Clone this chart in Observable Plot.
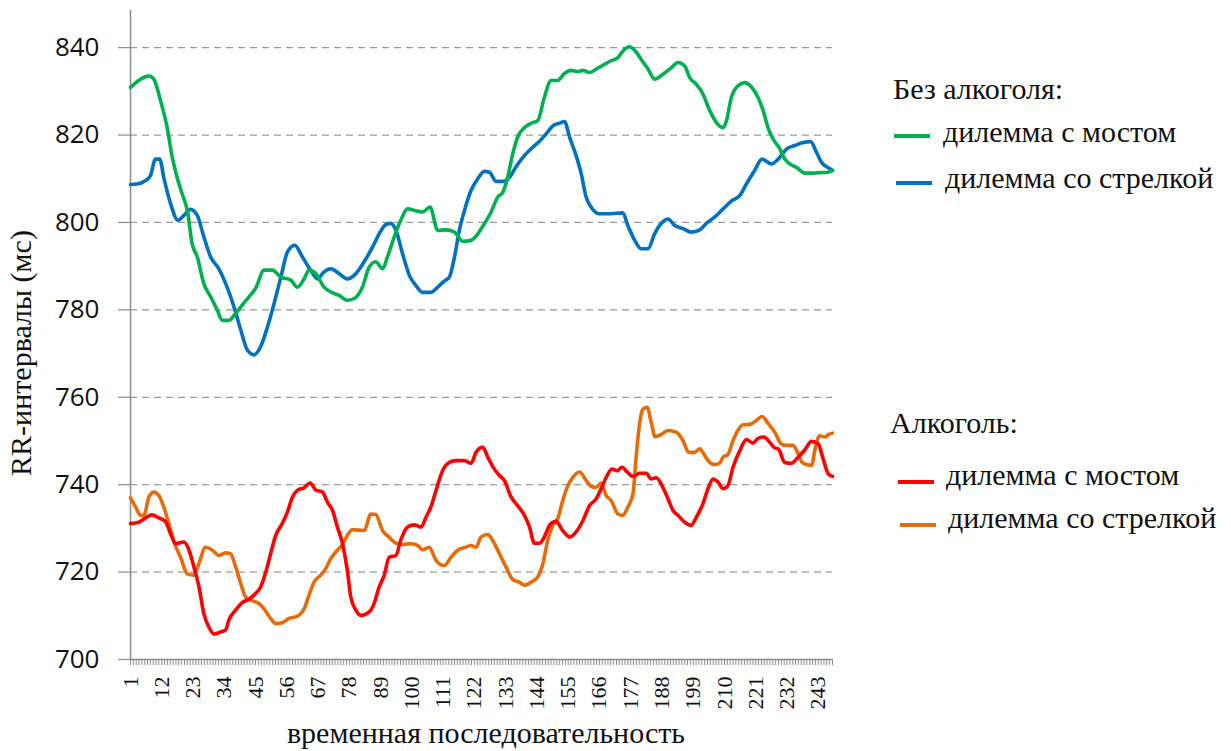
<!DOCTYPE html>
<html>
<head>
<meta charset="utf-8">
<script src="https://cdn.jsdelivr.net/npm/d3@7"></script>
<script src="https://cdn.jsdelivr.net/npm/@observablehq/plot@0.6"></script>
<style>
  html, body { margin: 0; padding: 0; background: #fff; }
  #chart { position: relative; width: 1231px; height: 751px; }
</style>
</head>
<body>
<div id="chart"></div>
<script>
// Без алкоголя: дилемма с мостом  [index, ms]
const noAlcBridge = [[1,830.9],[7.5,833.5],[9.2,832.8],[11.6,827.8],[13.9,821.7],[15.7,814.9],[17.4,810.3],[19.2,806.5],[21,802.7],[22.7,795.1],[24.5,792.1],[26.8,786],[29.2,783],[31.5,780],[33.3,777.6],[35.6,777.6],[38,779.2],[40.3,781.1],[42.7,783],[45,784.9],[48,789.1],[50.9,789.1],[53.9,787.5],[57.4,786.8],[59.7,785.2],[62.1,787.1],[63.8,789.1],[66.2,788.3],[69.1,785.2],[71.5,784.1],[74.4,783.3],[77.3,782.2],[79.7,782.6],
[82.6,785.2],[85,789.8],[87.3,791],[89.7,789.4],[91.4,792.1],[93.8,796.7],[96.1,800.5],[98.5,803.1],[101.4,802.7],[103.8,802.4],[106.4,803.5],[109.1,798.2],[112,798.3],[115,797.8],[117.9,795.7],[120.8,795.9],[123.2,797.4],[125.5,799.7],[127.9,802.4],[130.2,805.8],[132,806.9],[133.7,810.3],[135.5,815.7],[137.2,819.5],[139.6,821.7],[142,822.7],[144.3,823.3],[146.6,828.6],[149,832.5],[151.3,832.5],[153.7,834.1],[156,834.8],[158.4,834.5],[160.2,834.8],[162.5,834.3],
[165.4,835.3],[167.8,836.2],[170.1,837],[172.5,837.7],[174.2,839.2],[176.6,840.2],[178.4,839.4],[180.7,837.3],[183.1,835.1],[185.4,832.8],[188.3,833.9],[191.3,835.4],[193.6,836.6],[196,835.8],[197.7,833.2],[200.1,831.6],[202.4,829.4],[204.8,825.6],[207.1,822.9],[209.5,821.7],[210.7,823.3],[212.4,828.6],[214.8,831.3],[217.1,832],[219.5,831],[221.8,828.6],[223.6,825.6],[225.3,821.7],[227.1,819.1],[229.5,816.8],[231.2,814.5],[233,813.4],[235.3,812.6],[238.3,811.3],[241.2,811.3],[244.1,811.4],[246.5,811.5],[248,811.9]];

// Без алкоголя: дилемма со стрелкой
const noAlcArrow = [[1,808.7],[3.3,808.8],[6.3,809.6],[8,810.7],[9.8,814.5],[11.3,814.5],[12.7,810.3],[15.1,804.3],[17.7,800.5],[19.8,801.6],[22.1,803],[24.5,801.6],[26.8,796.7],[29.2,792.1],[32.1,789.4],[34.5,786],[37.4,780.7],[39.8,775.4],[42.1,770.8],[44.5,769.7],[46.8,771.6],[49.2,776.1],[51.5,781.4],[53.9,787.5],[56.2,793.2],[58.8,794.8],[61.5,792.1],[64.4,789.1],[66.8,787.1],[69.1,788.7],[71.5,789.4],[74.4,788.3],[77.3,787.1],[79.7,787.9],
[83.2,791],[86.2,794.4],[88.5,797.4],[90.8,799.5],[92.6,799.8],[94.4,798.2],[96.7,792.9],[99.1,787.9],[101.4,785.6],[103.8,784],[106.7,784],[109.1,785.2],[111.4,786.6],[113.2,787.5],[115,792.1],[116.7,798.2],[118.5,802.7],[120.8,807.3],[123.2,810],[125.5,811.7],[127.3,811.5],[129.6,809.4],[132,809.4],[134.3,810.3],[136.7,812.8],[139.6,815.3],[142.5,817.2],[144.9,818.6],[147.2,820.2],[149.6,822.1],[151.9,822.7],[153.7,823.1],[155.5,819.5],[157.8,815.3],[159.6,811.1],[161.3,805.8],[163.1,803.5],
[166,802],[170.1,802],[174.2,802.2],[176,799.3],[178.4,795.9],[180.7,794],[183.1,794],[185.4,797.4],[187.8,799.8],[190.1,800.8],[192.5,799.3],[195.4,798.6],[198.3,797.8],[201.3,798.3],[203.6,799.8],[206.5,801.2],[209.5,803.1],[212.4,804.9],[215.4,806.2],[217.7,808.8],[220.6,811.9],[223.2,814.5],[226.5,813.4],[228.9,814.5],[231.8,816.8],[234.7,817.6],[237.7,818.3],[240.3,818.5],[242.4,816],[244.1,813.8],[246.5,812.5],[248,811.9]];

// Алкоголь: дилемма с мостом
const alcBridge = [[1,731.1],[3.9,731.4],[6.3,732.4],[8.6,733.1],[11,732.4],[13.3,731.6],[15.1,728.8],[16.9,726.5],[19.8,726.9],[21.6,725],[23.3,721.2],[25.1,716.6],[26.8,710.5],[28.6,707.4],[30.4,705.8],[32.7,706.3],[34.5,706.8],[35.6,709],[38,711.3],[40.3,713],[42.7,713.8],[45,715.1],[46.8,716.6],[48.6,720],[50.3,724.2],[52.1,728.4],[54.4,731.1],[56.2,733.7],[58,737.2],[59.7,738.7],[62.1,739.3],[64.2,740.4],[66.2,738.8],[68.5,738.3],[70.3,736],[72.1,734.1],[73.8,730.3],[75.6,726.5],[77.3,720.4],[78.5,714.3],[80.3,711.3],[82,710.1],
[85,710.9],[86.7,712.8],[88.5,716.6],[90.3,719.3],[92,723.4],[94.4,723.8],[96.1,727.3],[98.5,730.3],[100.8,730.8],[103.2,730.3],[105,732.6],[106.7,734.9],[108.5,738.7],[110.8,743.2],[113.2,745.1],[115.5,745.5],[118.5,745.5],[120.8,744.9],[122.6,747.4],[124.9,748.6],[126.7,746.3],[128.4,744.2],[130.8,742.1],[132.5,741],[134.9,737.2],[137.2,735.2],[139.6,733],[141.4,730.3],[143.1,726.6],[144.9,726.6],[146.6,728],[148.4,730.7],[150.7,731.6],[153.1,729.5],[155.5,728],[157.8,729.2],[160.2,731.8],[162.5,735.2],
[164.9,736.8],[166.6,739.1],[168.4,741.7],[170.4,743.6],[172.3,743.2],[173.9,744],[175.8,742.9],[177.8,741.9],[180.1,742.6],[182.5,742.6],[184.2,741.3],[186,741.6],[188.3,739.4],[190.1,736.8],[191.9,734.1],[193.6,733],[196,731.4],[198.3,730.7],[200.1,732.6],[202.4,735.6],[204.2,739.1],[206,741.3],[207.7,740.6],[209.5,739.1],[211.2,739.8],[213,744],[215.4,747.8],[217.7,750.3],[220,749.5],[221.8,750.6],[223.9,750.9],[225.9,749.7],[227.7,748.4],[228.9,748.2],[231.2,745.1],[233.6,744.9],[235.9,746.3],[238.3,748],[240.6,749.9],[243,749.3],[244.7,745.9],[246.5,742.5],[248,741.9]];

// Алкоголь: дилемма со стрелкой
const alcArrow = [[1,737],[2.8,734.9],[4.5,733],[5.7,733],[7.5,737.2],[9.2,738.3],[11,737.5],[12.7,734.9],[14.5,731.1],[16.3,726.9],[18.6,723.4],[21,719.6],[23.3,719.3],[25.1,722],[27.4,725.7],[29.8,725],[32.1,723.8],[34.5,724.4],[36.2,724.2],[38,721.2],[39.8,717.4],[41.5,714.3],[43.9,713.4],[46.2,712.8],[48,711.6],[50.3,709.4],[52.1,708.2],[54.4,708.4],[56.8,709.4],[59.7,709.9],[62.1,711.6],[63.8,714.7],[65.6,717.7],[67.9,719.3],[69.7,720.8],[71.5,723.1],[73.8,725],[75.6,726.3],[77.3,728.4],[79.1,729.7],
[83.2,729.5],[85.6,733.3],[87.3,733.2],[89.7,729.5],[92,728],[94.4,726.6],[96.7,726.3],[99.7,726.5],[102,726.1],[103.8,725.1],[106.1,725.7],[108.5,722.7],[111.4,721.5],[113.8,723.4],[116.1,725],[118.5,725.6],[120.8,726.1],[122.6,725.7],[124.3,728],[126.7,728.6],[128.4,727.3],[130.8,724.2],[133.1,721.2],[135.5,718.3],[137.8,717.7],[139.6,717],[142,717.7],[144.3,718.9],[146.1,721.9],[147.8,727.3],[149.6,730.7],[151.3,732.2],[153.1,736.4],[154.9,739.8],[156.6,741.6],[159,742.9],[161.3,741],[163.1,739.6],
[164.9,739.4],[166.6,740.4],[168.4,737.5],[170.1,736.4],[172.5,733.3],[174.2,733],[176,734.9],[177.8,737.9],[178.9,746.3],[180.1,753.9],[181.3,757.3],[182.8,757.7],[184.2,754.3],[185.6,751],[187.8,751.5],[190.1,752.4],[193,752],[195.4,750.1],[197.4,747.4],[199.5,747.4],[201.3,748.2],[203,746.7],[204.8,745.1],[206.5,744.6],[208.3,744.9],[209.5,746.3],[211.2,746.9],[213,750.1],[214.8,752.5],[216.5,753.7],[218.9,753.8],[221.2,754.7],[223.2,755.6],[225.3,754.1],[227.7,752],[230,749.3],[231.8,749],[234.1,749],[235.9,747.1],[237.3,745.1],[238.9,744.6],[240.6,744.4],[242,748.6],[243.5,751.2],[245.3,750.9],[246.7,751.5],[248,751.8]];

const yTicks = [700, 720, 740, 760, 780, 800, 820, 840];
const gridTicks = [720, 740, 760, 780, 800, 820, 840];
const xTickLabels = [1, 12, 23, 34, 45, 56, 67, 78, 89, 100, 111, 122, 133, 144, 155, 166, 177, 188, 199, 210, 221, 232, 243];
const xCategories = d3.range(1, 249);

const colors = {bridgeNo: "#00B050", arrowNo: "#0070C0", bridgeAlc: "#FF0000", arrowAlc: "#E46C0A"};

const serif = "Liberation Serif";
const sans = "Open Sans";

const lineOpts = (color) => ({x: d => d[0], y: d => d[1], stroke: color, strokeWidth: 3.6, curve: "monotone-x", strokeLinejoin: "round", strokeLinecap: "round"});

const plot = Plot.plot({
  width: 1231,
  height: 751,
  marginLeft: 130,
  marginRight: 399,
  marginTop: 10,
  marginBottom: 92,
  style: {background: "#fff", overflow: "visible"},
  x: {domain: [1, 248]},
  y: {domain: [700, 848.5]},
  marks: [
    Plot.gridY(gridTicks, {stroke: "#9a9a9a", strokeOpacity: 1, strokeWidth: 1.2, strokeDasharray: "7,5"}),
    Plot.axisY(yTicks, {tickSize: 12, tickPadding: 19, fontSize: 26, fontFamily: sans, fill: "#111", stroke: "#8c8c8c", strokeWidth: 1.2, label: null}),
    Plot.axisX(xCategories, {tickSize: 6, tickFormat: () => "", stroke: "#8c8c8c", strokeWidth: 1, label: null}),
    Plot.axisX(xTickLabels, {tickSize: 0, tickRotate: -90, tickPadding: 17, fontSize: 22, fontFamily: serif, fill: "#111", label: null}),
    Plot.ruleX([1], {stroke: "#8c8c8c", strokeWidth: 1.5}),
    Plot.ruleY([700], {stroke: "#8c8c8c", strokeWidth: 1.5}),
    Plot.line(noAlcArrow, lineOpts(colors.arrowNo)),
    Plot.line(noAlcBridge, lineOpts(colors.bridgeNo)),
    Plot.line(alcArrow, lineOpts(colors.arrowAlc)),
    Plot.line(alcBridge, lineOpts(colors.bridgeAlc))
  ]
});

document.getElementById("chart").appendChild(plot);

const svg = d3.select(plot);

function addText(txt, x, y, anchor, transform) {
  const t = svg.append("text")
    .attr("font-family", serif)
    .attr("text-anchor", anchor)
    .attr("font-size", 30)
    .attr("fill", "#111")
    .text(txt);
  if (transform) t.attr("transform", transform);
  else t.attr("x", x).attr("y", y);
  return t;
}

addText("RR-интервалы (мс)", 0, 0, "middle", "translate(31,353) rotate(-90)");
addText("временная последовательность", 486, 743, "middle");

const legend = [
  {type: "title", text: "Без алкоголя:", x: 893, y: 99},
  {type: "item", text: "дилемма с мостом", x: 943, y: 142, color: colors.bridgeNo, sx: 894, sy: 136},
  {type: "item", text: "дилемма со стрелкой", x: 945, y: 188, color: colors.arrowNo, sx: 896, sy: 183},
  {type: "title", text: "Алкоголь:", x: 890, y: 433},
  {type: "item", text: "дилемма с мостом", x: 946, y: 485, color: colors.bridgeAlc, sx: 898, sy: 482},
  {type: "item", text: "дилемма со стрелкой", x: 948, y: 528, color: colors.arrowAlc, sx: 900, sy: 525}
];
for (const d of legend) {
  addText(d.text, d.x, d.y, "start");
  if (d.type === "item") {
    svg.append("line")
      .attr("x1", d.sx).attr("x2", d.sx + 36)
      .attr("y1", d.sy).attr("y2", d.sy)
      .attr("stroke", d.color).attr("stroke-width", 4);
  }
}
</script>
</body>
</html>
